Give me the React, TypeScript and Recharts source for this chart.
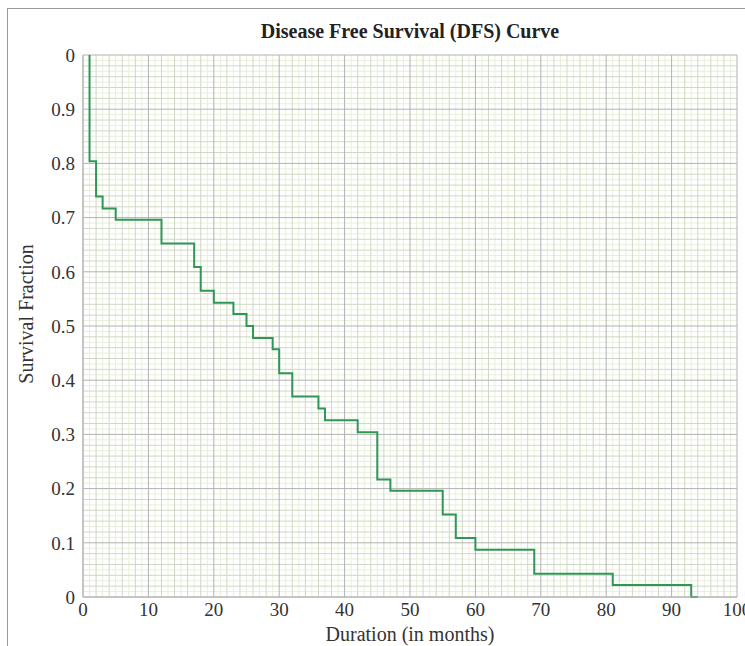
import React from 'react';
import {
  LineChart,
  Line,
  XAxis,
  YAxis,
  ReferenceLine,
  Label,
} from 'recharts';

// Kaplan-Meier step points
const months = [1, 1, 2, 3, 5, 12, 17, 18, 20, 23, 25, 26, 29, 30, 32, 36, 37, 42, 45, 47, 55, 57, 60, 69, 81, 93, 94];
const survival = [1.0, 0.804, 0.739, 0.717, 0.696, 0.652, 0.609, 0.565, 0.543, 0.522, 0.5, 0.478, 0.457, 0.413, 0.37, 0.348, 0.326, 0.304, 0.217, 0.196, 0.152, 0.109, 0.087, 0.043, 0.022, 0, 0];

const xTicks = [0, 10, 20, 30, 40, 50, 60, 70, 80, 90, 100];
const yTicks = [0, 0.1, 0.2, 0.3, 0.4, 0.5, 0.6, 0.7, 0.8, 0.9, 1];
const yTickLabels = ['0', '0.1', '0.2', '0.3', '0.4', '0.5', '0.6', '0.7', '0.8', '0.9', '0'];

const chartData = months.map((m, i) => ({ month: m, dfs: survival[i] }));

// grid lines: fine (1 month / 0.01), minor (2 months / 0.02), major (ticks)
const xFine: number[] = [];
const xMinor: number[] = [];
for (let m = 1; m < 100; m++) {
  if (m % 10 === 0) continue;
  if (m % 2 === 0) xMinor.push(m);
  else xFine.push(m);
}
const yFine: number[] = [];
const yMinor: number[] = [];
for (let k = 1; k < 100; k++) {
  if (k % 10 === 0) continue;
  if (k % 2 === 0) yMinor.push(k / 100);
  else yFine.push(k / 100);
}

const FONT = '"Liberation Serif", "Times New Roman", serif';
const FINE = '#e8f0da';
const MINOR = '#cfd8c4';
const MAJOR = '#b2b2b2';

export default function App() {
  return (
    <div style={{ position: 'fixed', left: 0, top: 0, width: 745, height: 646, overflow: 'hidden', background: '#fff' }}>
      <div
        style={{
          position: 'absolute',
          left: 7,
          top: 8,
          width: 800,
          height: 700,
          borderLeft: '1px solid #9a9a9a',
          borderTop: '1px solid #9a9a9a',
        }}
      />
      <div
        style={{
          position: 'absolute',
          left: 83,
          width: 654,
          top: 20,
          textAlign: 'center',
          fontFamily: FONT,
          fontWeight: 'bold',
          fontSize: 20,
          color: '#222',
        }}
      >
        Disease Free Survival (DFS) Curve
      </div>
      <div style={{ position: 'absolute', left: 0, top: 0 }}>
        <LineChart width={745} height={646} data={chartData} margin={{ top: 55, right: 8, left: 8, bottom: 0 }}>
          <XAxis
            dataKey="month"
            type="number"
            domain={[0, 100]}
            ticks={xTicks}
            allowDataOverflow
            tickLine={false}
            axisLine={{ stroke: MAJOR }}
            height={49}
            tick={{ fontFamily: FONT, fontSize: 19, fill: '#333' }}
            tickMargin={0}
            interval={0}
          />
          <YAxis
            type="number"
            domain={[0, 1]}
            ticks={yTicks}
            tickFormatter={(v: number) => yTickLabels[yTicks.indexOf(v)] ?? ''}
            tickLine={false}
            axisLine={{ stroke: MAJOR }}
            width={75}
            interval={0}
            tick={{ fontFamily: FONT, fontSize: 19, fill: '#333' }}
            tickMargin={2}
          >
            <Label value="Survival Fraction" angle={-90} position="insideLeft" offset={18} dy={-12} style={{ textAnchor: 'middle', fontFamily: FONT, fontSize: 20, fill: '#333' }} />
          </YAxis>
          {xFine.map((v) => (
            <ReferenceLine key={'xf' + v} x={v} stroke={FINE} strokeWidth={1} />
          ))}
          {yFine.map((v) => (
            <ReferenceLine key={'yf' + v} y={v} stroke={FINE} strokeWidth={1} />
          ))}
          {xMinor.map((v) => (
            <ReferenceLine key={'xm' + v} x={v} stroke={MINOR} strokeWidth={1} />
          ))}
          {yMinor.map((v) => (
            <ReferenceLine key={'ym' + v} y={v} stroke={MINOR} strokeWidth={1} />
          ))}
          {xTicks.map((v) => (
            <ReferenceLine key={'xM' + v} x={v} stroke={MAJOR} strokeWidth={1} />
          ))}
          {yTicks.map((v) => (
            <ReferenceLine key={'yM' + v} y={v} stroke={MAJOR} strokeWidth={1} />
          ))}
          <Line
            type="stepAfter"
            dataKey="dfs"
            stroke="#2f9656"
            strokeWidth={2}
            dot={false}
            isAnimationActive={false}
          />
        </LineChart>
      </div>
      <div
        style={{
          position: 'absolute',
          left: 83,
          width: 654,
          top: 623,
          textAlign: 'center',
          fontFamily: FONT,
          fontSize: 20,
          lineHeight: '22px',
          color: '#333',
        }}
      >
        Duration (in months)
      </div>
    </div>
  );
}
